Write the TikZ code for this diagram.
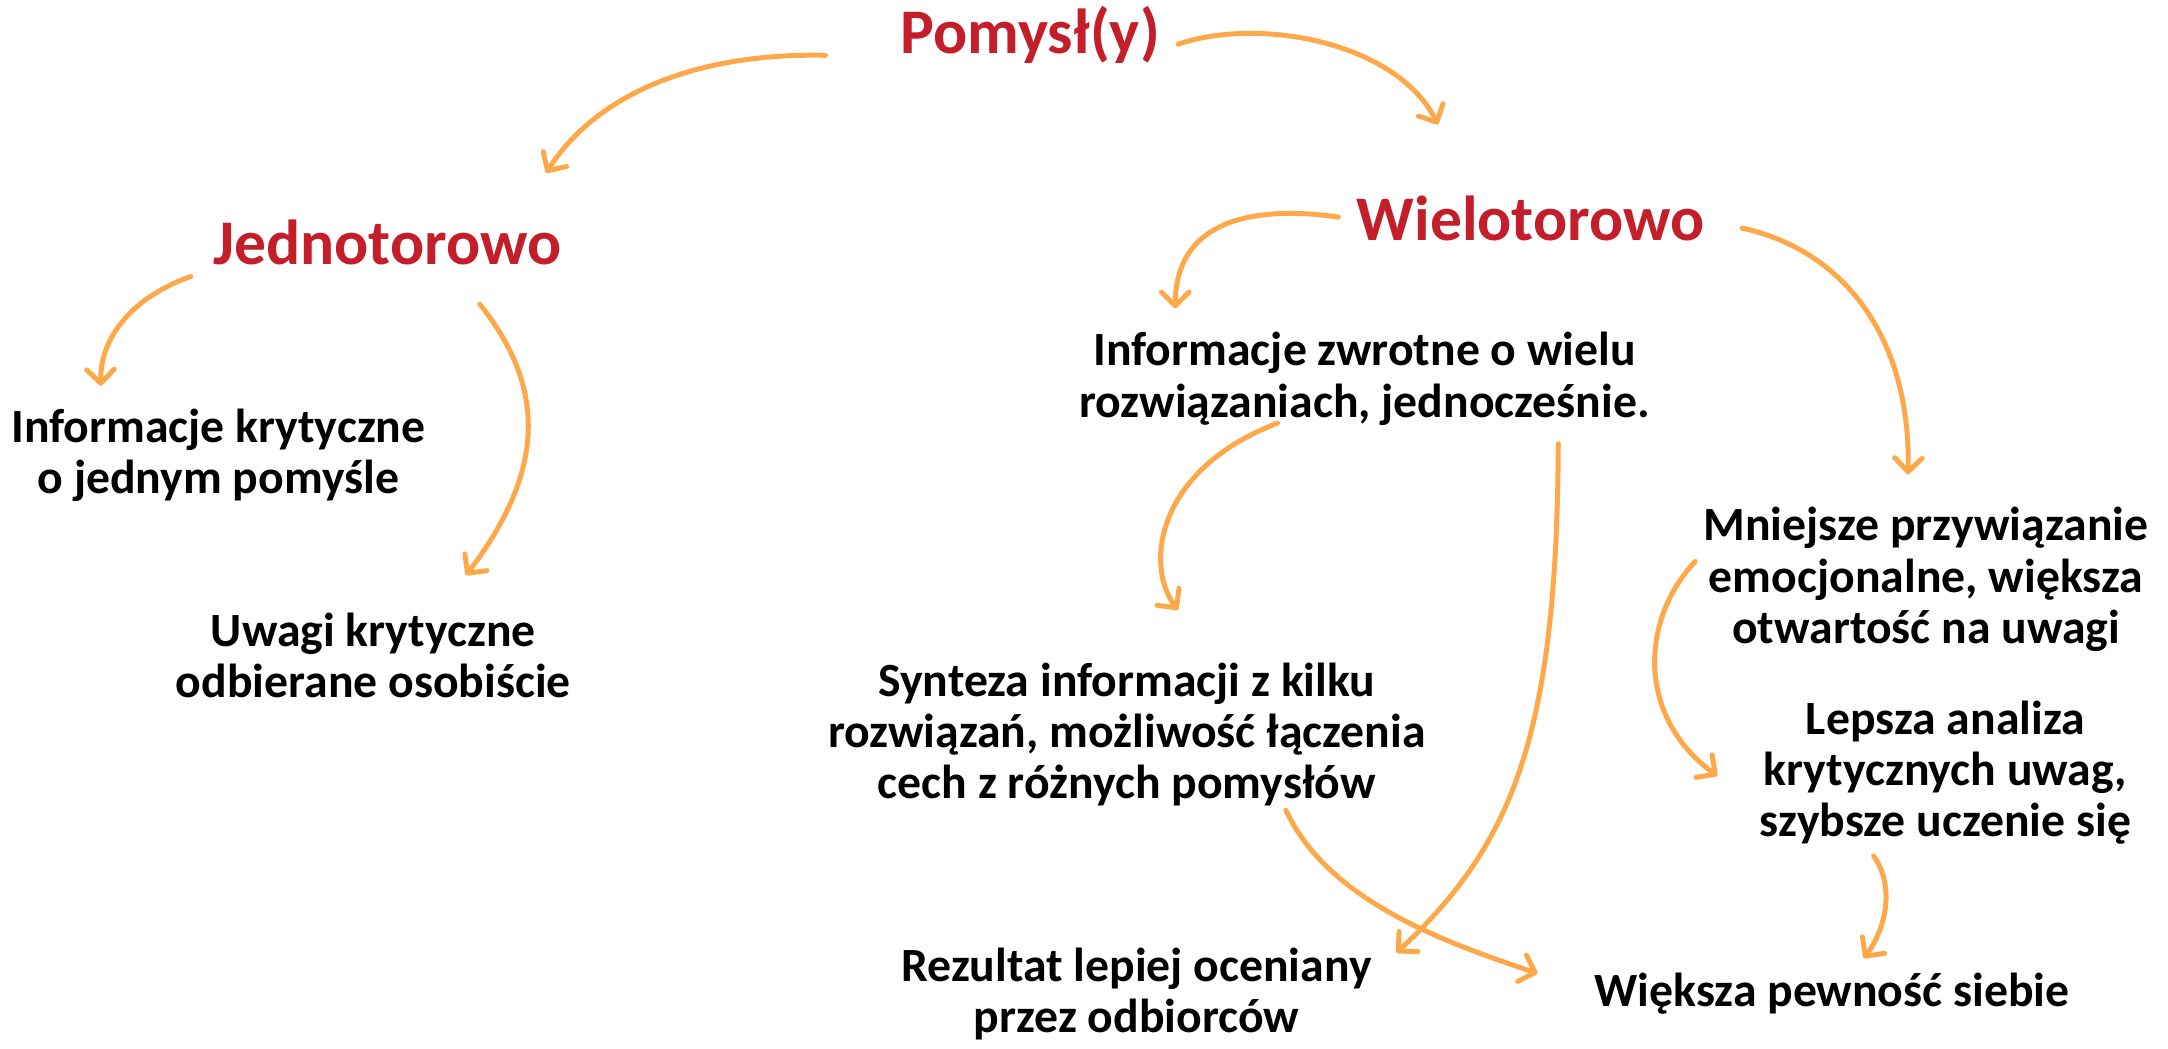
\documentclass[tikz,border=0pt]{standalone}
\usepackage{fontspec}
\setmainfont{Carlito}
\usetikzlibrary{arrows.meta}
\definecolor{tred}{RGB}{196,30,42}
\definecolor{arr}{RGB}{255,168,74}
\begin{document}
\begin{tikzpicture}[x=1pt,y=-1pt,
  head/.style={font=\fontsize{46}{50}\selectfont\bfseries, text=tred, inner sep=0pt},
  body/.style={font=\fontsize{34.5}{37}\selectfont\bfseries, text=black, align=center, inner sep=0pt},
  conn/.style={draw=arr, line width=3.6pt, line cap=round, line join=round,
     -{Straight Barb[length=10pt,width=20pt,line width=3.6pt,round]}}]
\useasboundingbox (0,0) rectangle (1568,758);
\node[head] (pom) at (745,25) {Pomysł(y)};
\node[head] (jed) at (280,175) {Jednotorowo};
\node[head] (wie) at (1107,158) {Wielotorowo};
\node[body] (infk) at (158,329) {Informacje krytyczne\\o jednym pomyśle};
\node[body] (uwa) at (270,474) {Uwagi krytyczne\\odbierane osobiście};
\node[body] (infz) at (987,274) {Informacje zwrotne o wielu\\rozwiązaniach, jednocześnie.};
\node[body] (syn) at (815,531) {Synteza informacji z kilku\\rozwiązań, możliwość łączenia\\cech z różnych pomysłów};
\node[body] (rez) at (822,719) {Rezultat lepiej oceniany\\przez odbiorców};
\node[body] (mni) at (1393,419) {Mniejsze przywiązanie\\emocjonalne, większa\\otwartość na uwagi};
\node[body] (lep) at (1407,559) {Lepsza analiza\\krytycznych uwag,\\szybsze uczenie się};
\node[body] (wp) at (1325,719) {Większa pewność siebie};

\draw[conn] ([shift={(-148,15)}]pom.center) .. controls (500,38) and (430,70) .. ([shift={(115,-50)}]jed.center);
\draw[conn] ([shift={(107,7)}]pom.center) .. controls (910,12) and (1010,30) .. ([shift={(-67,-68)}]wie.center);
\draw[conn] ([shift={(-139,-1)}]wie.center) .. controls (905,148) and (850,160) .. ([shift={(-137,-51)}]infz.center);
\draw[conn] ([shift={(153,7)}]wie.center) .. controls (1330,180) and (1382,240) .. ([shift={(-13,-76)}]mni.center);
\draw[conn] ([shift={(-142,25)}]jed.center) .. controls (95,215) and (72,245) .. ([shift={(-85,-50)}]infk.center);
\draw[conn] ([shift={(67,45)}]jed.center) .. controls (395,280) and (395,340) .. ([shift={(67,-58)}]uwa.center);
\draw[conn] ([shift={(-63,32)}]infz.center) .. controls (835,340) and (828,410) .. ([shift={(37,-90)}]syn.center);
\draw[conn] ([shift={(140,47)}]infz.center) .. controls (1126,530) and (1095,610) .. ([shift={(188,-30)}]rez.center);
\draw[conn] ([shift={(115,55)}]syn.center) .. controls (960,650) and (1040,680) .. ([shift={(-213,-15)}]wp.center);
\draw[conn] ([shift={(-167,-13)}]mni.center) .. controls (1185,450) and (1185,520) .. ([shift={(-165,2)}]lep.center);
\draw[conn] ([shift={(-52,60)}]lep.center) .. controls (1370,640) and (1365,670) .. ([shift={(23,-26)}]wp.center);
\end{tikzpicture}
\end{document}
